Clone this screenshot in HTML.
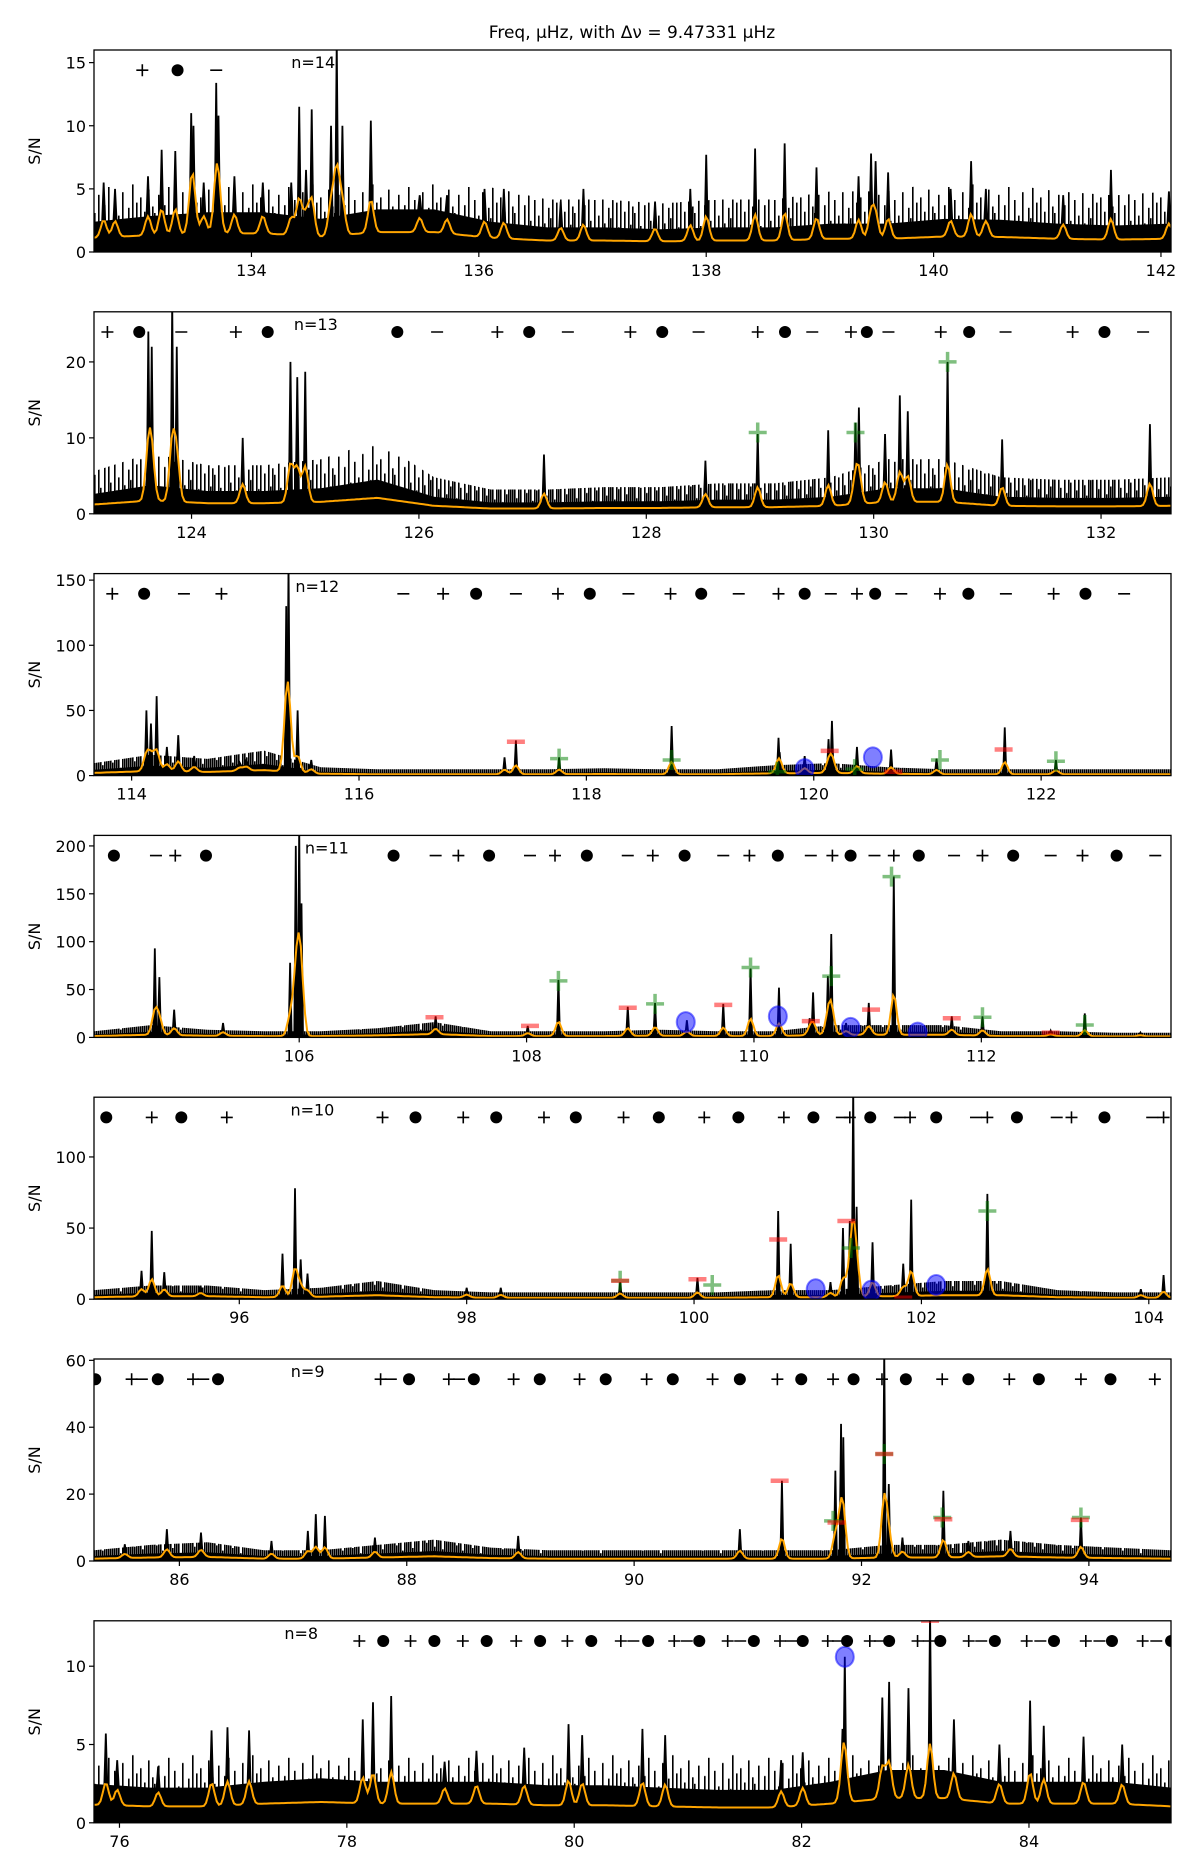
<!DOCTYPE html>
<html><head><meta charset="utf-8"><style>
body{margin:0;background:#fff}
svg{display:block;font-family:"DejaVu Sans","Liberation Sans",sans-serif}
</style></head><body>
<svg id="chart" width="1200" height="1867" viewBox="0 0 1200 1867" xmlns="http://www.w3.org/2000/svg">
<text x="632" y="38" font-size="17" text-anchor="middle">Freq, μHz, with Δν = 9.47331 μHz</text>
</svg>
<script>
const deltaNu = 9.47331;
const panelXmin = [132.615, 123.142, 113.669, 104.195, 94.722, 85.249, 75.776];
const panelYmax = [16, 26.6, 155, 211, 142, 60.4, 12.9];
const panelOrder = [14, 13, 12, 11, 10, 9, 8];
const yTicks1 = [0,5,10,15], yTicks2 = [0,10,20], yTicks3 = [0,50,100,150], yTicks4 = [0,50,100,150,200], yTicks5 = [0,50,100], yTicks6 = [0,20,40,60], yTicks7 = [0,5,10];
const nLabelF = [134.35, 124.9, 115.44, 106.05, 96.45, 86.98, 77.45];

// Noise envelopes (20 samples across each panel)
const env1 = [3.2,3.8,4.2,4.2,3.5,4.5,4.5,3.2,2.6,2.6,2.4,2.6,2.6,3,3,3.5,3.4,3,2.8,3];
const env2 = [3.5,5,4,4,4.5,6,3,2,2,2.2,2.2,2.5,2.5,3,4.5,4.5,3,2.8,2.8,3];
const env3 = [6,10,8,12,4,3,3,3,3,3.5,3,3,5,6,4,3,3,3,3,3];
const env4 = [4,8,5,4,4,6,10,4,4,4,5,4,4,8,8,8,4,4,3,3];
const env5 = [4,6,6,4,5,8,4,3,3,3,3,3,4,4,6,8,8,4,3,3];
const env6 = [2,3,3.5,2,2,3,4,2.5,2,2,2,2,2,2,3,3,4,3,2.5,2];
const env7 = [3.3,3,3,3.5,3.8,3.5,3.5,3.5,3.2,3.2,3,2.8,2.8,3.5,4.5,4.5,3.5,3.5,3.5,3];

// Spikes
const spikeF1 = [132.70,132.80,133.09,133.21,133.33,133.47,133.49,133.58,133.69,133.71,133.85,134.10,134.35,134.42,134.48,134.53,134.70,134.75,134.80,135.05,135.48,135.72,136.05,136.22,136.72,136.92,137.55,137.86,138.00,138.43,138.69,138.97,139.34,139.45,139.49,139.60,140.15,140.33,140.46,141.14,141.56,142.07];
const spikeH1 = [5.5,5,6,8.1,8,11,10,5.5,13.4,10.8,6,5.5,5.5,11.5,6.5,11.3,10,20,10,10.4,4.5,4.5,5,5,4,5,4,5,7.7,8.2,8.6,6.7,6,7.8,7.2,6.3,5,7.2,5,4.5,6.5,4.8];
const spikeF2 = [123.62,123.65,123.83,123.87,124.45,124.87,124.93,125.00,127.10,128.52,128.98,129.60,129.84,129.87,130.10,130.23,130.30,130.65,131.13,132.43];
const spikeH2 = [24,22,30,22,10,20,18,18.7,7.8,7,10.5,11,12,14,10.5,15.6,13.5,20,9.8,11.8];
const spikeF3 = [114.13,114.17,114.22,114.31,114.41,114.55,114.95,115.01,115.36,115.38,115.46,115.58,117.28,117.38,117.76,118.75,119.69,119.70,119.92,120.13,120.16,120.38,120.68,121.08,121.68,122.13];
const spikeH3 = [50,40,61,22,31,15,10,12,130,170,50,12,14,27,14,38,29,18,15,28,42,22,20,13,37,12];
const spikeF4 = [104.73,104.77,104.90,105.33,105.92,105.97,106.00,106.02,107.20,108.01,108.28,108.89,109.13,109.41,109.73,109.97,110.22,110.49,110.52,110.65,110.68,110.81,111.01,111.23,111.74,112.01,112.61,112.91,113.40];
const spikeH4 = [93,63,29,15,78,200,230,140,22,12,60,32,36,18,35,72,52,20,47,64,108,15,36,168,22,22,7,25,5];
const spikeF5 = [95.14,95.23,95.34,95.66,96.38,96.49,96.54,96.60,98.00,98.30,99.35,100.03,100.74,100.85,101.20,101.31,101.37,101.40,101.43,101.57,101.84,101.91,102.58,103.93,104.13];
const spikeH5 = [20,48,19,9,32,78,28,18,8,8,12,15,62,39,12,50,55,160,65,40,25,70,74,7,17];
const spikeF6 = [85.52,85.89,86.19,86.81,87.13,87.20,87.28,87.72,88.98,90.93,91.30,91.77,91.82,91.84,92.20,92.24,92.36,92.72,92.94,93.31,93.93];
const spikeH6 = [5,9.5,8.5,6,9,14,13.5,7,7.5,9.5,24,27,41,37,70,23,7,21,6,9,13];
const spikeF7 = [75.88,75.98,76.34,76.81,76.95,77.14,78.14,78.23,78.39,78.86,79.14,79.56,79.95,80.07,80.60,80.80,81.82,82.01,82.36,82.38,82.71,82.77,82.94,83.13,83.34,83.74,84.01,84.13,84.48,84.82];
const spikeH7 = [5.7,4,3.6,5.9,6.1,5.9,6.6,7.7,8.1,3.9,4.6,4.8,6.3,5.6,6,5.6,4,4.5,6,10.6,8,9,8.6,14,6.6,5,7.8,6.2,5.5,5];

// Mode symbols (+, dot, minus)
const plusF1 = [133.04], dotF1 = [133.35], minusF1 = [133.69];
const plusF2 = [123.26,124.39,126.69,127.86,128.98,129.80,130.59,131.75];
const dotF2 = [123.54,124.67,125.81,126.97,128.14,129.22,129.94,130.84,132.03];
const minusF2 = [123.91,126.16,127.31,128.46,129.46,130.13,131.16,132.37];
const plusF3 = [113.83,114.79,116.74,117.75,118.74,119.69,120.38,121.11,122.11];
const dotF3 = [114.11,117.03,118.03,119.01,119.92,120.54,121.36,122.39];
const minusF3 = [114.46,116.39,117.38,118.37,119.34,120.15,120.77,121.69,122.73];
const plusF4 = [104.91,107.40,108.25,109.11,109.96,110.69,111.23,112.01,112.89];
const dotF4 = [104.37,105.18,106.83,107.67,108.53,109.39,110.21,110.85,111.45,112.28,113.19];
const minusF4 = [104.74,107.20,108.03,108.89,109.73,110.50,111.06,111.76,112.61,113.53];
const plusF5 = [95.23,95.89,97.26,97.97,98.68,99.38,100.09,100.79,101.37,101.90,102.58,103.32,104.13];
const dotF5 = [94.83,95.49,97.55,98.26,98.96,99.69,100.39,101.05,101.55,102.13,102.84,103.61];
const minusF5 = [101.30,101.81,102.48,103.19,104.03];
const plusF6 = [85.58,86.12,87.77,88.37,88.94,89.52,90.11,90.69,91.26,91.75,92.18,92.71,93.30,93.93,94.58];
const dotF6 = [85.26,85.81,86.34,88.02,88.59,89.17,89.75,90.34,90.93,91.47,91.93,92.39,92.94,93.56,94.19];
const minusF6 = [85.67,86.21,87.86,88.46];
const plusF7 = [78.11,78.56,79.02,79.49,79.94,80.41,80.88,81.35,81.81,82.23,82.60,83.02,83.47,83.98,84.50,85.00];
const dotF7 = [78.32,78.77,79.23,79.70,80.15,80.65,81.10,81.58,82.01,82.40,82.77,83.22,83.70,84.22,84.73,85.25];
const minusF7 = [80.52,80.99,81.46,81.91,82.32,82.69,83.12,83.58,84.10,84.62,85.12];

// Fitted-mode markers
const greenF2 = [128.98,129.84,130.65], greenY2 = [10.7,10.7,20];
const greenF3 = [117.76,118.75,119.68,120.36,121.11,122.13], greenY3 = [13,12,3,5,12,11];
const redF3 = [117.38,120.14,120.70,121.67], redY3 = [26,19,3,20];
const blueF3 = [119.92,120.52], blueY3 = [5,14];
const greenF4 = [108.28,109.13,109.97,110.68,111.21,112.01,112.91], greenY4 = [59,35,73,64,168,21,13];
const redF4 = [107.19,108.03,108.89,109.73,110.50,111.03,111.74,112.61], redY4 = [21,12,31,34,17,29,20,5];
const blueF4 = [109.40,110.21,110.85,111.44], blueY4 = [16,22,10,5];
const greenF5 = [99.35,100.16,101.38,102.58], greenY5 = [13,10,36,62];
const redF5 = [99.35,100.03,100.74,101.34,101.84], redY5 = [13,14,42,55,1];
const blueF5 = [101.07,101.56,102.13], blueY5 = [7,6,10];
const greenF6 = [91.75,92.20,92.71,93.93], greenY6 = [12,32,13,13];
const redF6 = [91.28,91.78,92.20,92.72,93.92], redY6 = [24,11.5,32,12.5,12.3];
const redF7 = [83.13], redY7 = [12.9];
const blueF7 = [82.38], blueY7 = [10.6];

const P = [
 {env:env1,sf:spikeF1,sh:spikeH1,yt:yTicks1,pf:plusF1,df:dotF1,mf:minusF1,gf:[],gy:[],rf:[],ry:[],bf:[],by:[]},
 {env:env2,sf:spikeF2,sh:spikeH2,yt:yTicks2,pf:plusF2,df:dotF2,mf:minusF2,gf:greenF2,gy:greenY2,rf:[],ry:[],bf:[],by:[]},
 {env:env3,sf:spikeF3,sh:spikeH3,yt:yTicks3,pf:plusF3,df:dotF3,mf:minusF3,gf:greenF3,gy:greenY3,rf:redF3,ry:redY3,bf:blueF3,by:blueY3},
 {env:env4,sf:spikeF4,sh:spikeH4,yt:yTicks4,pf:plusF4,df:dotF4,mf:minusF4,gf:greenF4,gy:greenY4,rf:redF4,ry:redY4,bf:blueF4,by:blueY4},
 {env:env5,sf:spikeF5,sh:spikeH5,yt:yTicks5,pf:plusF5,df:dotF5,mf:minusF5,gf:greenF5,gy:greenY5,rf:redF5,ry:redY5,bf:blueF5,by:blueY5},
 {env:env6,sf:spikeF6,sh:spikeH6,yt:yTicks6,pf:plusF6,df:dotF6,mf:minusF6,gf:greenF6,gy:greenY6,rf:redF6,ry:redY6,bf:[],by:[]},
 {env:env7,sf:spikeF7,sh:spikeH7,yt:yTicks7,pf:plusF7,df:dotF7,mf:minusF7,gf:[],gy:[],rf:redF7,ry:redY7,bf:blueF7,by:blueY7}
];

const svg = document.getElementById('chart');
const NS = 'http://www.w3.org/2000/svg';
function mk(tag, attrs, parent){ const e=document.createElementNS(NS,tag); for(const k in attrs) e.setAttribute(k,attrs[k]); parent.appendChild(e); return e; }
const L=94, W=1077, H=202;

// noise texture (purely stylistic stripe pattern)
const defs = mk('defs',{},svg);
const stripeLen = [30,12,44,20,8,36,16,50,24,10,40,18,28,6,46,22,14,34,26,52,11,38,19,42,9,31,15,48,21,35];

P.forEach((p,i)=>{
  const top = 50 + i*261.8, bot = top+H;
  const xmin = panelXmin[i], xmax = xmin+deltaNu, ymax = panelYmax[i];
  const xs = f => L + (f-xmin)/(xmax-xmin)*W;
  const ys = v => bot - Math.min(v,ymax*1.05)/ymax*H;
  const g = mk('g',{},svg);
  
  
  const cid='clip'+i;
  const cp = mk('clipPath',{id:cid},g); mk('rect',{x:L,y:top,width:W,height:H},cp);
  const plot = mk('g',{'clip-path':'url(#'+cid+')'},g);
  // pattern for this panel
  const pid='pat'+i;
  const pat = mk('pattern',{id:pid,patternUnits:'userSpaceOnUse',x:L,y:bot-200,width:60,height:200},defs);
  stripeLen.forEach((len,k)=>{ mk('rect',{x:k*2,y:200-len*1.3,width:1.6,height:len*1.3,fill:'#000'},pat); });
  const envAt = f => { const t=(f-xmin)/(xmax-xmin)*(p.env.length-1); const k=Math.max(0,Math.min(p.env.length-2,Math.floor(t))); const u=t-k; return p.env[k]*(1-u)+p.env[k+1]*u; };
  const envPath = s => { let d='M'+L+','+bot; p.env.forEach((v,k)=>{ d+=' L'+(L+k/(p.env.length-1)*W).toFixed(1)+','+ys(v*s).toFixed(1); }); return d+' L'+(L+W)+','+bot+' Z'; };
  const noiseTex = mk('path',{d:envPath(1.6),fill:'url(#'+pid+')'},plot);
  
  
  const noise = mk('path',{d:envPath(0.75),fill:'#000'},plot);
  
  
  // spikes
  p.sf.forEach((f,k)=>{
    const x=xs(f);
    const b=ys(envAt(f)*0.75);
    const s = mk('path',{d:`M${x-1.5},${b} L${x},${ys(p.sh[k])} L${x+1.5},${b} Z`,fill:'#000',stroke:'#000','stroke-width':1.8},plot);
    
    
  });
  // smoothed orange
  let od='';
  for(let j=0;j<=500;j++){
    const f=xmin+(xmax-xmin)*j/500;
    let v=0.35*envAt(f);
    p.sf.forEach((sf,k)=>{ const z=(f-sf)/0.025; v+=0.25*p.sh[k]*Math.exp(-0.5*z*z); });
    od+=(j?' L':'M')+xs(f).toFixed(1)+','+ys(v).toFixed(1);
  }
  const ol = mk('path',{d:od,fill:'none',stroke:'#ffa500','stroke-width':2},plot);
  
  
  // fit markers
  p.bf.forEach((f,k)=>{
    const c=mk('ellipse',{cx:xs(f),cy:ys(p.by[k]),rx:9,ry:10,fill:'rgba(0,0,255,0.5)',stroke:'rgba(0,0,255,0.5)','stroke-width':2},plot);
    
    
  });
  p.gf.forEach((f,k)=>{
    const x=xs(f),y=ys(p.gy[k]);
    const m=mk('path',{d:`M${x-9},${y} H${x+9} M${x},${y-10} V${y+10}`,stroke:'rgba(0,128,0,0.5)','stroke-width':3.5},plot);
    
    
  });
  p.rf.forEach((f,k)=>{
    const x=xs(f),y=ys(p.ry[k]);
    const m=mk('path',{d:`M${x-9},${y} H${x+9}`,stroke:'rgba(255,0,0,0.5)','stroke-width':4.5},plot);
    
    
  });
  // symbol row
  const ry = ys(ymax*0.9);
  p.pf.forEach(f=>{ const x=xs(f); const m=mk('path',{d:`M${x-6},${ry} H${x+6} M${x},${ry-6} V${ry+6}`,stroke:'#000','stroke-width':1.6},plot);
    
     });
  p.df.forEach(f=>{ const m=mk('circle',{cx:xs(f),cy:ry,r:6,fill:'#000'},plot);
    
     });
  p.mf.forEach(f=>{ const x=xs(f); const m=mk('path',{d:`M${x-6},${ry} H${x+6}`,stroke:'#000','stroke-width':1.6},plot);
    
     });
  const nl = mk('text',{x:xs(nLabelF[i]),y:ry-2,'font-size':16},g);
  nl.textContent='n='+panelOrder[i];
  
  
  // frame
  const fr=mk('rect',{x:L,y:top,width:W,height:H,fill:'none',stroke:'#000','stroke-width':1.3},g);
  
  
  // x ticks
  for(let t=Math.ceil(xmin/2)*2;t<=xmax;t+=2){
    const x=xs(t);
    mk('line',{x1:x,y1:bot,x2:x,y2:bot+5,stroke:'#000','stroke-width':1.2},g);
    const tl=mk('text',{x:x,y:bot+24,'font-size':16,'text-anchor':'middle'},g);
    tl.textContent=t;
    
    
  }
  p.yt.forEach(t=>{
    const y=ys(t);
    mk('line',{x1:L-5,y1:y,x2:L,y2:y,stroke:'#000','stroke-width':1.2},g);
    const tl=mk('text',{x:L-8,y:y+6,'font-size':16,'text-anchor':'end'},g);
    tl.textContent=t;
    
    
  });
  const yl=mk('text',{x:0,y:0,'font-size':16,'text-anchor':'middle',transform:`translate(${L-54},${top+H/2}) rotate(-90)`},g);
  yl.textContent='S/N';
  
  
});
</script>
</body></html>
